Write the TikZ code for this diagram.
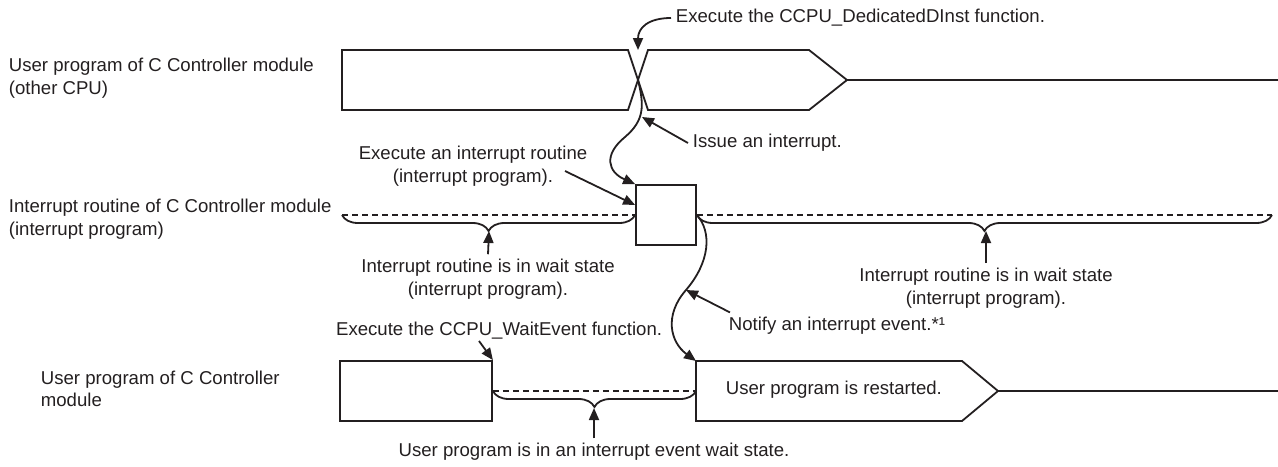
\documentclass[tikz,border=0pt]{standalone}
\usepackage{fontspec}
\setmainfont{Liberation Sans}
\usetikzlibrary{arrows.meta,decorations.pathreplacing}
\definecolor{tinta}{HTML}{231F20}

\begin{document}
\begin{tikzpicture}[x=0.5pt,y=-0.5pt,>={Triangle[length=6pt,width=5pt]},
  line width=0.9pt,draw=tinta,
  t/.style={inner sep=2pt,text=tinta,font=\fontsize{9.3}{11.2}\selectfont},
  wt/.style={dash pattern=on 3pt off 2pt},
  br/.style={decorate,decoration={brace,mirror,amplitude=8pt}}]
\useasboundingbox (0,0) rectangle (1278,466);
% row labels
\node[t,anchor=west,align=left] (u1) at (4,78) {User program of C Controller module\\(other CPU)};
\node[t,anchor=west,align=left] (u2) at (4,219) {Interrupt routine of C Controller module\\(interrupt program)};
\node[t,anchor=west,align=left] (u3) at (36,389) {User program of C Controller\\module};
% other CPU
\draw (628,50) -- (342,50) -- (342,110) -- (628,110) -- (648,50) -- (809,50) -- (847,80)
  -- (809,110) -- (648,110) -- cycle;
\coordinate (x) at (638,80);
\coordinate (xt) at (638,50);
\coordinate (ia) at (642,117);
\coordinate (p1) at (847,80);
\draw (p1) -- (1278,80);
% interrupt routine
\node[draw,minimum width=30pt,minimum height=30pt,inner sep=0pt] (ir) at (666,215) {};
\coordinate (a1) at (342,215);
\coordinate (a2) at (1272,215);
\draw[wt] (a1) -- (ir.west);
\draw[wt] (ir.east) -- (a2);
\draw[br] (a1) -- (ir.west);
\draw[br] (ir.east) -- (a2);
\coordinate (c1) at (489,231);
\coordinate (c2) at (986,231);
% C Controller
\node[draw,minimum width=76pt,minimum height=30pt,inner sep=0pt] (wb) at (416,391) {};
\coordinate (rs) at (696,391);
\coordinate (rsn) at (696,361);
\draw (rsn) -- (962,361) -- (998,391) -- (962,421) -- (696,421) -- cycle;
\draw (998,391) -- (1278,391);
\draw[wt] (wb.east) -- (rs);
\draw[br] (wb.east) -- (rs);
\coordinate (c3) at (594,408);
\node[t,anchor=west] at (721,390) {User program is restarted.};
% texts and arrows
\node[t,anchor=west] (dinst) at (671,18) {Execute the CCPU\_DedicatedDInst function.};
\draw[->] (dinst.west) .. controls (648,18) and (638,28) .. (xt);
\draw[->] (x) .. controls (644,105) and (645,120) .. (625,137) .. controls (603,155) and (608,172) .. (ir.north west);
\node[t,anchor=west] (iss) at (688,143) {Issue an interrupt.};
\draw[->] (iss.west) -- (ia);
\node[t,align=center] (exi) at (473,166) {Execute an interrupt routine\\(interrupt program).};
\coordinate (es) at (565,171);
\draw[->] (es) -- ([yshift=5pt]ir.west);
\node[t,align=center] (wl) at (488,279) {Interrupt routine is in wait state\\(interrupt program).};
\draw[->] (wl.north) -- (c1);
\node[t,align=center] (wr) at (986,288) {Interrupt routine is in wait state\\(interrupt program).};
\draw[->] (wr.north) -- (c2);
\coordinate (nt) at (686,290);
\draw[->] (ir.east) .. controls (712,232) and (710,262) .. (nt) .. controls (664,315) and (670,342) .. (rsn);
\node[t,anchor=west] (ntf) at (724,326) {Notify an interrupt event.*¹};
\draw[->] ([xshift=3pt]ntf.north west) -- (nt);
\node[t,anchor=east] (we) at (667,331) {Execute the CCPU\_WaitEvent function.};
\coordinate (ws) at (479,341);
\draw[->] (ws) -- (wb.north east);
\node[t] (wu) at (594,452) {User program is in an interrupt event wait state.};
\draw[->] (wu.north) -- (c3);
\end{tikzpicture}
\end{document}
